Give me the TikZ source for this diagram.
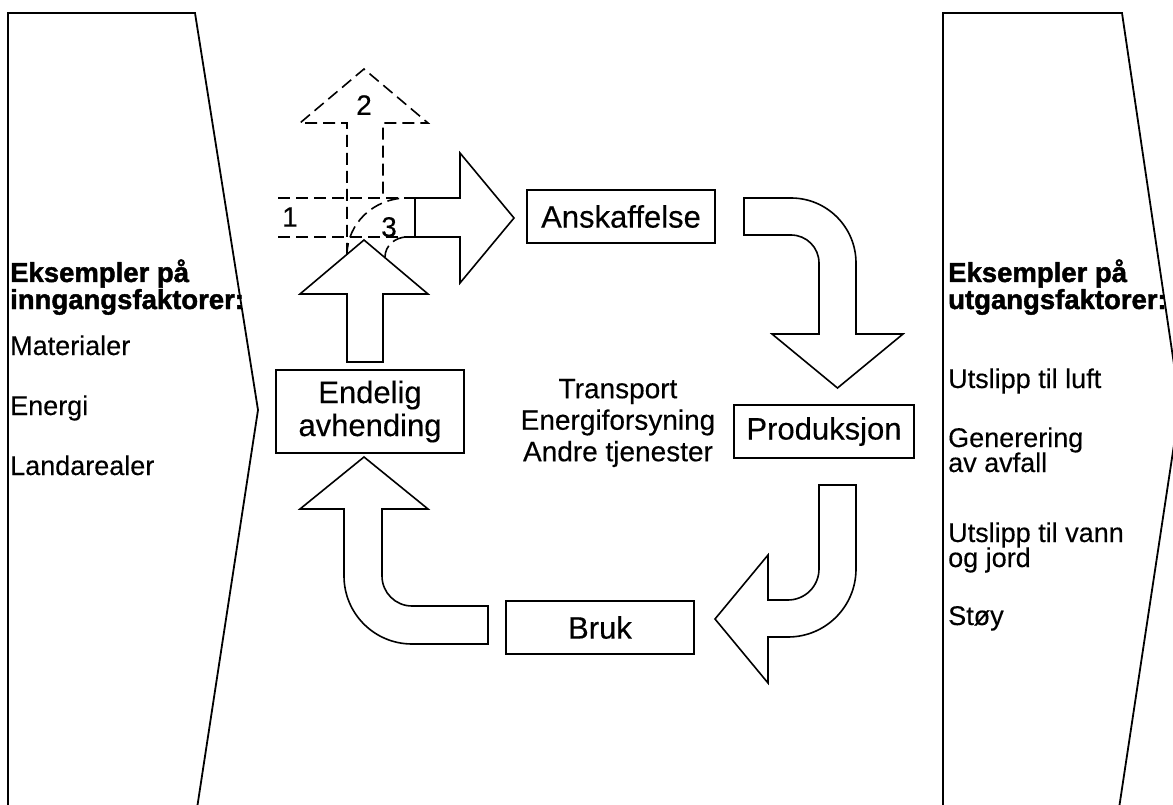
\documentclass[tikz,border=0pt]{standalone}
\usepackage{fontspec}
\setmainfont[FakeBold=0.3]{Liberation Sans}
\newfontfamily\headfont[FakeBold=1.6]{Liberation Sans Bold}
\begin{document}
\begin{tikzpicture}[x=1pt,y=-1pt,
  box/.style={draw, line width=1.8pt, minimum width=188pt, minimum height=53pt, inner sep=0pt, font=\fontsize{31}{32}\selectfont},
  blockarrow/.style={draw, line width=1.6pt, line join=miter},
  dashedline/.style={draw, line width=1.6pt, dash pattern=on 12pt off 6pt},
  chevron/.style={draw, line width=1.8pt, line join=miter},
  side/.style={anchor=base west, inner sep=0pt, font=\fontsize{27}{28}\selectfont, align=left},
  sidehead/.style={anchor=base west, inner sep=0pt, font=\headfont\fontsize{27.5}{28}\selectfont, align=left},
  numlabel/.style={inner sep=0pt, font=\fontsize{28}{28}\selectfont},
  centertext/.style={inner sep=0pt, align=center, font=\fontsize{28}{31.5}\selectfont}]
\useasboundingbox (0,0) rectangle (1173,805);
\clip (0,0) rectangle (1173,805);

% side chevrons
\draw[chevron] (8,815) -- (8,13) -- (195,13) -- (258,410) -- (196,815);
\draw[chevron] (943,815) -- (943,13) -- (1122,13) -- (1180,405) -- (1118,815);

% left texts
\node[sidehead] (inhead1) at (10,282) {Eksempler på};
\node[sidehead] (inhead2) at (10,309) {inngangsfaktorer:};
\node[side] (in1) at (10,355) {Materialer};
\node[side] (in2) at (10,415) {Energi};
\node[side] (in3) at (10,475) {Landarealer};

% right texts
\node[sidehead] (outhead1) at (948,282) {Eksempler på};
\node[sidehead] (outhead2) at (948,309) {utgangsfaktorer:};
\node[side] (out1) at (948,388) {Utslipp til luft};
\node[side] (out2a) at (948,447) {Generering};
\node[side] (out2b) at (948,472) {av avfall};
\node[side] (out3a) at (948,542) {Utslipp til vann};
\node[side] (out3b) at (948,567) {og jord};
\node[side] (out4) at (948,625) {Støy};

% boxes
\node[box] (ansk) at (621,216.5) {Anskaffelse};
\node[box, minimum width=180pt] (prod) at (824,431.5) {Produksjon};
\node[box] (bruk) at (600,627.5) {Bruk};
\node[box, minimum height=83pt, align=center, font=\fontsize{31}{33}\selectfont] (endl) at (370,411.5) {Endelig\\avhending};
\node[centertext] (tjen) at (618,423) {Transport\\Energiforsyning\\Andre tjenester};

% dashed alternatives (1, 2, 3)
\draw[dashedline] (347,255) -- (347,123) -- (300,123) -- (364,69) -- (428,123) -- (383,123) -- (383,198);
\draw[dashedline] (278,198) -- (415,198);
\draw[dashedline] (278,237) -- (415,237);
\draw[dashedline] (347,255) .. controls (347,223.5) and (373.9,198) .. (407,198);
\draw[dashedline] (385,257) .. controls (385,246) and (394.8,237) .. (407,237);
\node[numlabel] (n1) at (290,217) {1};
\node[numlabel] (n2) at (364,105) {2};
\node[numlabel] (n3) at (389,227) {3};

% solid up arrow from Endelig avhending
\draw[blockarrow, fill=white] (347,362) -- (347,294) -- (300,294) -- (364,240) -- (428,294) -- (383,294) -- (383,362) -- cycle;
% right arrow to Anskaffelse
\draw[blockarrow] (415,198) -- (460,198) -- (460,153) -- (514,218) -- (460,283) -- (460,237) -- (415,237) -- cycle;

% Anskaffelse -> Produksjon
\draw[blockarrow] (744,198) -- (791,198) .. controls (826.9,198) and (856,227.1) .. (856,263)
  -- (856,334) -- (903,334) -- (837.5,388) -- (772,334) -- (819,334) -- (819,263)
  .. controls (819,247.5) and (806.5,235) .. (791,235) -- (744,235) -- cycle;

% Produksjon -> Bruk
\draw[blockarrow] (819,485) -- (856,485) -- (856,569) .. controls (856,606.6) and (825.6,637) .. (788,637)
  -- (768,637) -- (768,683) -- (715,619) -- (768,555) -- (768,600) -- (788,600)
  .. controls (805.1,600) and (819,586.1) .. (819,569) -- cycle;

% Bruk -> Endelig avhending
\draw[blockarrow] (488,606) -- (412,606) .. controls (395.4,606) and (382,592.6) .. (382,576)
  -- (382,509) -- (428,509) -- (364,457) -- (300,509) -- (344,509) -- (344,576)
  .. controls (344,613.6) and (374.4,644) .. (412,644) -- (488,644) -- cycle;
\end{tikzpicture}
\end{document}
